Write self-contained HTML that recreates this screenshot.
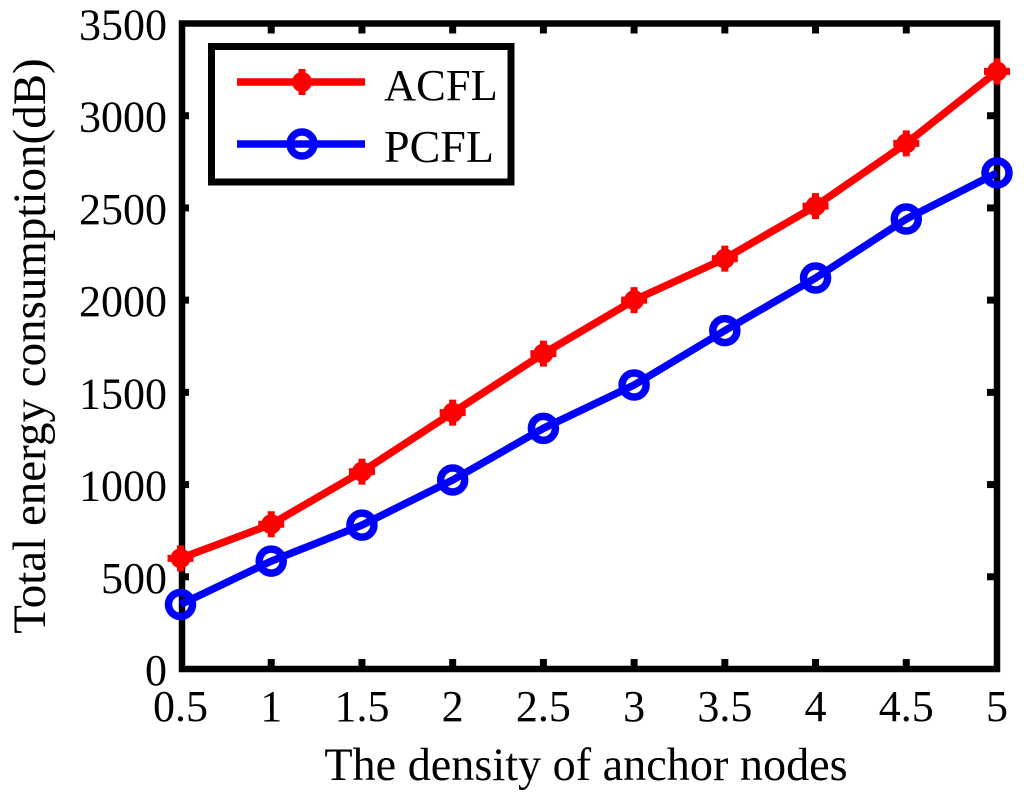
<!DOCTYPE html>
<html>
<head>
<meta charset="utf-8">
<title>Total energy consumption chart</title>
<style>
  html, body { margin: 0; padding: 0; background: #fff; }
  #chart { display: block; width: 1024px; height: 795px; }
  text { font-family: "Liberation Serif", "Times New Roman", serif; fill: #000; }
</style>
</head>
<body>
<svg id="chart" xmlns="http://www.w3.org/2000/svg" width="1024" height="795" viewBox="0 0 1024 795"></svg>
<script>
const densityCategories = [0.5, 1, 1.5, 2, 2.5, 3, 3.5, 4, 4.5, 5];
const acflValues = [600, 785, 1070, 1390, 1710, 2000, 2225, 2510, 2850, 3240];
const pcflValues = [350, 585, 780, 1025, 1305, 1540, 1835, 2120, 2440, 2690];
const xTickLabels = ["0.5", "1", "1.5", "2", "2.5", "3", "3.5", "4", "4.5", "5"];
const yTickValues = [0, 500, 1000, 1500, 2000, 2500, 3000, 3500];

const NS = "http://www.w3.org/2000/svg";
const svg = document.getElementById("chart");
const plot = { left: 182, right: 997, top: 23.5, bottom: 669, xOrigin: 180.5 };
const RED = "#ff0000";
const BLUE = "#0000ff";

function xScale(v) {
  return plot.xOrigin + (v - 0.5) / (5 - 0.5) * (plot.right - plot.xOrigin);
}
function yScale(v) {
  return plot.bottom - v / 3500 * (plot.bottom - plot.top);
}
function make(tag, attrs, parent) {
  const el = document.createElementNS(NS, tag);
  for (const k in attrs) el.setAttribute(k, attrs[k]);
  (parent || svg).appendChild(el);
  return el;
}

/* ticks */
const tickGroup = make("g", { stroke: "#000", "stroke-width": 7 });


densityCategories.slice(1, -1).forEach(function (c) {
  const x = xScale(c);
  const b = make("line", { x1: x, x2: x, y1: plot.bottom, y2: plot.bottom - 10 }, tickGroup);
  
  
  const t = make("line", { x1: x, x2: x, y1: plot.top, y2: plot.top + 10 }, tickGroup);
  
  
});
yTickValues.slice(1, -1).forEach(function (v) {
  const y = yScale(v);
  const l = make("line", { x1: plot.left, x2: plot.left + 7, y1: y, y2: y }, tickGroup);
  
  
  const r = make("line", { x1: plot.right, x2: plot.right - 10, y1: y, y2: y }, tickGroup);
  
  
});

/* plot frame */
const frame = make("rect", {
  x: plot.left, y: plot.top,
  width: plot.right - plot.left, height: plot.bottom - plot.top,
  fill: "none", stroke: "#000", "stroke-width": 6.5
});



/* tick labels */
xTickLabels.forEach(function (label, i) {
  const t = make("text", { x: xScale(densityCategories[i]), y: 721, "font-size": 44, "text-anchor": "middle" });
  t.textContent = label;
  
  
});
yTickValues.forEach(function (v) {
  const t = make("text", { x: 167, y: yScale(v) + 16, "font-size": 44, "text-anchor": "end" });
  t.textContent = String(v);
  
  
});

/* axis titles */
const xTitle = make("text", { x: 586, y: 780, "font-size": 46.2, "text-anchor": "middle" });
xTitle.textContent = "The density of anchor nodes";



const yTitle = make("text", { x: 0, y: 0, "font-size": 47, "text-anchor": "middle", transform: "translate(45 346) rotate(-90)" });
yTitle.textContent = "Total energy consumption(dB)";



/* marker drawing */
function drawPlusMarker(parent, x, y) {
  make("circle", { cx: x, cy: y, r: 10, fill: RED }, parent);
  make("rect", { x: x - 3.5, y: y - 13, width: 7, height: 26, fill: RED }, parent);
  make("rect", { x: x - 13, y: y - 3.5, width: 26, height: 7, fill: RED }, parent);
}
function drawCircleMarker(parent, x, y) {
  make("circle", { cx: x, cy: y, r: 12, fill: "none", stroke: BLUE, "stroke-width": 7.5 }, parent);
}

/* series */
function drawSeries(name, values, color, marker) {
  const g = make("g", {});
  
  
  const pts = values.map(function (v, i) {
    return xScale(densityCategories[i]) + "," + yScale(v);
  }).join(" ");
  const line = make("polyline", { points: pts, fill: "none", stroke: color, "stroke-width": 7.5, "stroke-linejoin": "round" }, g);
  
  
  values.forEach(function (v, i) {
    const m = make("g", {}, g);
    
    
    marker(m, xScale(densityCategories[i]), yScale(v));
  });
}
drawSeries("acfl", acflValues, RED, drawPlusMarker);
drawSeries("pcfl", pcflValues, BLUE, drawCircleMarker);

/* legend */
const legend = make("g", {});


const legendBox = make("rect", { x: 211.5, y: 46.5, width: 299.5, height: 135.5, fill: "#fff", stroke: "#000", "stroke-width": 7 }, legend);



const entryA = make("g", {}, legend);


make("line", { x1: 237, x2: 365, y1: 82, y2: 82, stroke: RED, "stroke-width": 7.5 }, entryA);
drawPlusMarker(entryA, 302, 82);
const labelA = make("text", { x: 384, y: 100, "font-size": 44.5 }, entryA);
labelA.textContent = "ACFL";



const entryP = make("g", {}, legend);


make("line", { x1: 237, x2: 365, y1: 144, y2: 144, stroke: BLUE, "stroke-width": 7.5 }, entryP);
drawCircleMarker(entryP, 302, 144);
const labelP = make("text", { x: 384, y: 162, "font-size": 46 }, entryP);
labelP.textContent = "PCFL";


</script>
</body>
</html>
